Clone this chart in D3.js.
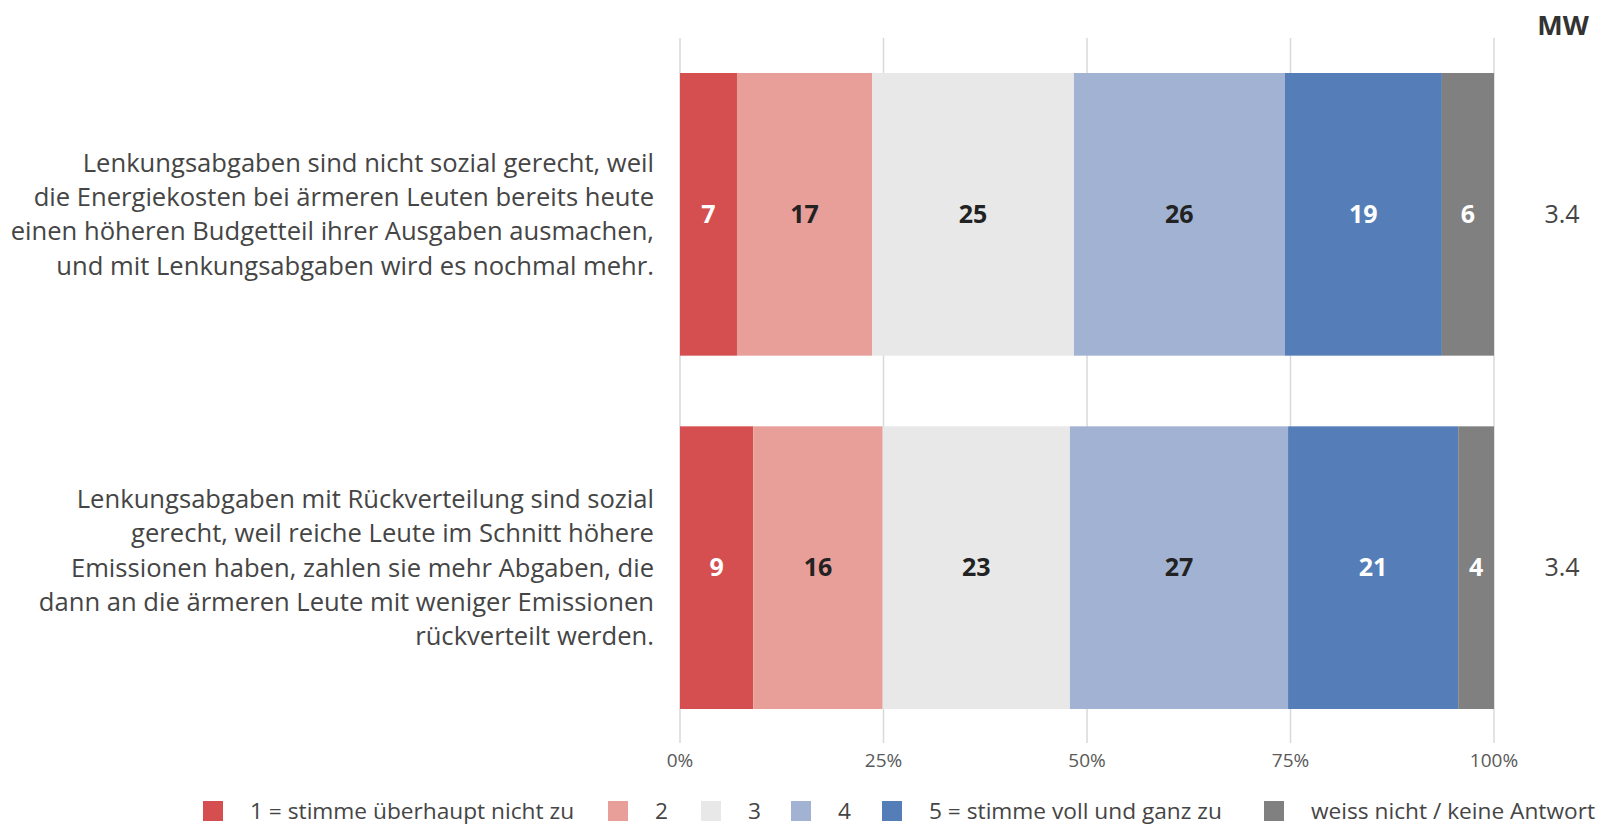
<!DOCTYPE html>
<html><head><meta charset="utf-8">
<script src="https://cdn.jsdelivr.net/npm/d3@7"></script>
<style>body{margin:0;background:#fff;}svg{display:block;font-family:"Open Sans","Noto Sans",sans-serif;}</style>
</head><body>
<svg id="c" width="1598" height="825"></svg>
<script>
const categories = [
  ["Lenkungsabgaben sind nicht sozial gerecht, weil","die Energiekosten bei ärmeren Leuten bereits heute","einen höheren Budgetteil ihrer Ausgaben ausmachen,","und mit Lenkungsabgaben wird es nochmal mehr."],
  ["Lenkungsabgaben mit Rückverteilung sind sozial","gerecht, weil reiche Leute im Schnitt höhere","Emissionen haben, zahlen sie mehr Abgaben, die","dann an die ärmeren Leute mit weniger Emissionen","rückverteilt werden."]
];
const seriesNames = ["1 = stimme überhaupt nicht zu","2","3","4","5 = stimme voll und ganz zu","weiss nicht / keine Antwort"];
const values = [
  [7.0,16.6,24.8,25.9,19.3,6.4],
  [9.0,15.9,23.0,26.8,20.9,4.4]
];
const labels = [
  [7,17,25,26,19,6],
  [9,16,23,27,21,4]
];
const means = ["3.4","3.4"];
const ticks = [0,25,50,75,100];
const colors = ["#d64f50","#e89e99","#e8e8e8","#a2b2d2","#557eb8","#808080"];
const labelColors = ["#fff","#222","#222","#222","#fff","#fff"];

const svg = d3.select("#c");
const x = d3.scaleLinear().domain([0,100]).range([680,1494]);
const y = d3.scaleBand().domain(d3.range(categories.length)).range([73,709]).paddingInner(0.2).paddingOuter(0);

// grid
svg.append("g").selectAll("line").data(ticks).join("line")
  .attr("x1",d=>x(d)).attr("x2",d=>x(d)).attr("y1",38).attr("y2",743)
  .attr("stroke","#d9d9d9").attr("stroke-width",1.5);

svg.append("g").selectAll("text").data(ticks).join("text")
  .attr("x",d=>x(d)).attr("y",760).attr("dy","0.35em").attr("text-anchor","middle")
  .attr("font-size",19).attr("fill","#595959").text(d=>d+"%");

const rows = svg.append("g").selectAll("g").data(values).join("g");
rows.each(function(vals,i){
  const g = d3.select(this);
  let cum = 0;
  const segs = vals.map((v,j)=>{const s={x0:cum,x1:cum+v,j,lab:labels[i][j]};cum+=v;return s;});
  const yc = y(i)+y.bandwidth()/2;
  g.selectAll("rect").data(segs).join("rect")
    .attr("x",d=>x(d.x0)).attr("width",d=>x(d.x1)-x(d.x0))
    .attr("y",y(i)).attr("height",y.bandwidth())
    .attr("fill",d=>colors[d.j]);
  g.selectAll("text.v").data(segs).join("text").attr("class","v")
    .attr("x",d=>(x(d.x0)+x(d.x1))/2).attr("y",yc).attr("dy","0.35em")
    .attr("text-anchor","middle").attr("font-size",25).attr("font-weight","bold")
    .attr("fill",d=>labelColors[d.j]).text(d=>d.lab);
  const lines = categories[i];
  const lh = 34.3;
  g.append("text").attr("text-anchor","end").attr("font-size",25.6).attr("fill","#454545")
    .selectAll("tspan").data(lines).join("tspan")
    .attr("x",654).attr("y",(d,k)=>yc+(k-(lines.length-1)/2)*lh).attr("dy","0.35em").text(d=>d);
  g.append("text").attr("x",1562).attr("y",yc).attr("dy","0.35em").attr("text-anchor","middle")
    .attr("font-size",25).attr("fill","#454545").text(means[i]);
});

svg.append("text").attr("x",1563).attr("y",26).attr("dy","0.35em").attr("text-anchor","middle")
  .attr("font-size",27).attr("font-weight","bold").attr("fill","#333").text("MW");

// legend
const legX = [203,608,701,791,882,1264];
const lg = svg.append("g").selectAll("g").data(seriesNames).join("g")
  .attr("transform",(d,i)=>`translate(${legX[i]},801)`);
lg.append("rect").attr("width",20).attr("height",20).attr("fill",(d,i)=>colors[i]);
lg.append("text").attr("x",47).attr("y",10).attr("dy","0.35em").attr("font-size",22.7).attr("fill","#454545").text(d=>d);
</script>
</body></html>
